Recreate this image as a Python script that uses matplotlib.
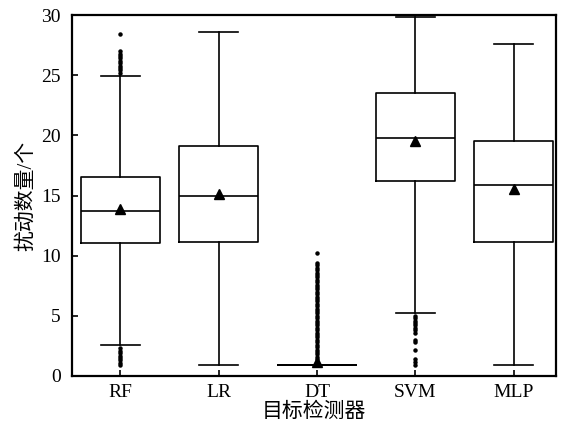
import matplotlib
matplotlib.use("Agg")
import matplotlib.pyplot as plt

plt.rcParams["font.family"] = ["Liberation Serif", "Noto Sans CJK SC"]

# summary statistics
labels = ["RF", "LR", "DT", "SVM", "MLP"]
whislo = [2.55, 0.95, 0.95, 5.2, 0.95]
q1 = [11.05, 11.1, 0.95, 16.2, 11.1]
medians = [13.75, 15.0, 0.95, 19.8, 15.9]
q3 = [16.55, 19.15, 0.95, 23.5, 19.55]
whishi = [24.95, 28.6, 0.95, 29.8, 27.6]
means = [13.85, 15.1, 1.15, 19.5, 15.5]

rf_fliers = [25.2, 25.4, 25.6, 25.8, 26.0, 26.2, 26.4, 26.6, 26.8, 27.0, 28.4,
             2.3, 2.1, 1.9, 1.7, 1.5, 1.3, 1.1, 0.9]
lr_fliers = []
dt_fliers = [1.2, 1.4, 1.6, 1.8, 2.0, 2.2, 2.4, 2.6, 2.8, 3.0, 3.2, 3.4, 3.6,
             3.8, 4.0, 4.2, 4.4, 4.6, 4.8, 5.0, 5.2, 5.4, 5.6, 5.8, 6.0, 6.2,
             6.4, 6.6, 6.8, 7.0, 7.2, 7.4, 7.6, 7.8, 8.0, 8.2, 8.4, 8.6, 8.8,
             9.0, 9.2, 9.4, 10.2]
svm_fliers = [5.0, 4.8, 4.6, 4.4, 4.2, 4.0, 3.8, 3.6, 3.0, 2.8, 2.2,
              1.4, 1.2, 0.9]
mlp_fliers = []
fliers = [rf_fliers, lr_fliers, dt_fliers, svm_fliers, mlp_fliers]

stats = []
for i, name in enumerate(labels):
    stats.append({
        "label": name, "whislo": whislo[i], "q1": q1[i], "med": medians[i],
        "q3": q3[i], "whishi": whishi[i], "mean": means[i], "fliers": fliers[i],
    })

fig = plt.figure(figsize=(5.69, 4.25), dpi=100)
ax = fig.add_axes([0.1265, 0.1153, 0.8505, 0.8494])

line = dict(color="black", linewidth=1.2)
ax.bxp(
    stats,
    widths=0.8,
    showmeans=True,
    boxprops=line,
    whiskerprops=line,
    capprops=line,
    medianprops=line,
    meanprops=dict(marker="^", markerfacecolor="black", markeredgecolor="black",
                   markersize=6.5),
    flierprops=dict(marker="o", markerfacecolor="black", markeredgecolor="black",
                    markersize=2.2, linestyle="none"),
)

ax.set_xlim(0.51, 5.43)
ax.set_ylim(0, 30)
ax.set_yticks([0, 5, 10, 15, 20, 25, 30])
ax.tick_params(direction="in", length=4, width=1.2, labelsize=14)
ax.tick_params(axis="y", pad=8)
ax.tick_params(axis="x", pad=6)
for s in ax.spines.values():
    s.set_linewidth(1.6)

ax.set_xlabel("目标检测器", fontsize=15, labelpad=1)
ax.set_ylabel("扰动数量/个", fontsize=15, labelpad=4)

plt.savefig("out.png", dpi=100)
plt.close()
